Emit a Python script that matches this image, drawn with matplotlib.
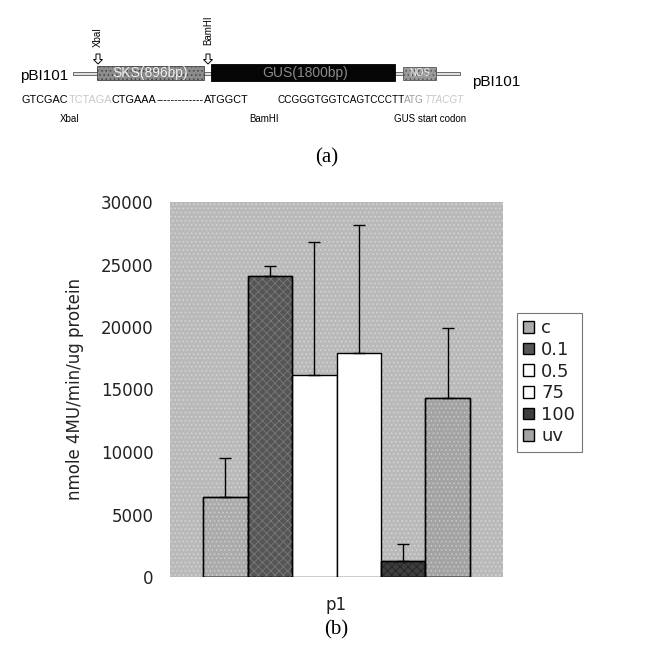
import matplotlib
matplotlib.use("Agg")
import matplotlib.pyplot as plt
from matplotlib.patches import Rectangle, FancyArrow
import numpy as np

# ---- data ----
groups = ["p1"]
series = ["c", "0.1", "0.5", "75", "100", "uv"]
values = [6400, 24100, 16200, 17900, 1300, 14300]
errors = [3100, 800, 10600, 10300, 1350, 5600]
yticks = [0, 5000, 10000, 15000, 20000, 25000, 30000]
ylabel = "nmole 4MU/min/ug protein"

bar_colors = ["#ababab", "#555555", "#ffffff", "#ffffff", "#3e3e3e", "#a3a3a3"]
bar_hatches = ["....", "xxxx", None, None, "xxxx", "...."]
hatch_colors = ["#cfcfcf", "#7a7a7a", None, None, "#222222", "#c8c8c8"]

W, H = 651, 651
fig = plt.figure(figsize=(W / 100, H / 100), dpi=100)
plt.rcParams["hatch.linewidth"] = 0.6

SANS = ["Liberation Sans", "DejaVu Sans"]

# ---------------- (a) schematic ----------------
axd = fig.add_axes([0, 1 - 170 / H, 1, 170 / H])
axd.set_xlim(0, W)
axd.set_ylim(170, 0)
axd.axis("off")
renderer = fig.canvas.get_renderer()


def chain(x, y, pieces, fs):
    """Draw text pieces one after another on a line."""
    for txt, kw in pieces:
        t = axd.text(x, y, txt, fontsize=fs, va="center", ha="left", family=SANS, **kw)
        bb = t.get_window_extent(renderer=renderer)
        x = x + bb.width  # axes x-units equal pixels
    return x


yline = 73
for x0, x1 in [(73, 97), (204, 211), (395, 403), (436, 460)]:
    axd.add_patch(Rectangle((x0, yline - 1.5), x1 - x0, 3, facecolor="#e0e0e0",
                            edgecolor="#555555", lw=0.6))
axd.add_patch(Rectangle((97, 66), 107, 14, facecolor="#8c8c8c", edgecolor="#444444",
                        lw=0.6, hatch="....", zorder=2))
axd.text(150, 73.5, "SKS(896bp)", color="#f0f0f0", fontsize=10, ha="center",
         va="center", family=SANS, zorder=3)
axd.add_patch(Rectangle((211, 64), 184, 17, facecolor="#050505", edgecolor="#000000",
                        lw=0.6, zorder=2))
axd.text(305, 73, "GUS(1800bp)", color="#8a8a8a", fontsize=10, ha="center",
         va="center", family=SANS, zorder=3)
axd.add_patch(Rectangle((403, 67), 33, 13, facecolor="#9a9a9a", edgecolor="#555555",
                        lw=0.6, hatch="....", zorder=2))
axd.text(419.5, 73.5, "NOS", color="#eeeeee", fontsize=7, ha="center", va="center",
         family=SANS, zorder=3)

axd.text(68, 76, "pBI101", fontsize=11, ha="right", va="center", family=SANS)
axd.text(472, 82, "pBI101", fontsize=11, ha="left", va="center", family=SANS)

for xa, lab, ytxt in [(98, "XbaI", 47), (208, "BamHI", 45)]:
    axd.add_patch(FancyArrow(xa, 54, 0, 10, width=4, head_width=9, head_length=4.5,
                             length_includes_head=True, facecolor="white",
                             edgecolor="black", lw=0.7))
    axd.text(xa, ytxt, lab, rotation=90, fontsize=7, ha="center", va="bottom",
             family=SANS)

yseq = 100
chain(22, yseq, [("GTCGAC", {}),
                 ("TCTAGA", {"color": "#c8c8c8"}),
                 ("CTGAAA", {}),
                 ("-" * 13, {}),
                 ("ATGGCT", {})], 7.8)
chain(277, yseq, [("CCGGGTGGTCAGTCCCTT", {}),
                  ("ATG", {"color": "#9a9a9a"}),
                  ("TTACGT", {"color": "#c8c8c8", "style": "italic"})], 7.2)
axd.text(70, 119, "XbaI", fontsize=7, ha="center", va="center", family=SANS)
axd.text(264, 119, "BamHI", fontsize=7, ha="center", va="center", family=SANS)
axd.text(430, 119, "GUS start codon", fontsize=7, ha="center", va="center",
         family=SANS)

axd.text(327, 158, "(a)", fontsize=15, ha="center", va="center",
         family=["Liberation Serif", "DejaVu Serif"])

# ---------------- (b) bar chart ----------------
L, R, T, B = 170, 503, 202, 577
ax = fig.add_axes([L / W, 1 - B / H, (R - L) / W, (B - T) / H])
ax.set_facecolor("#b9b9b9")
ax.add_patch(Rectangle((0, 0), 1, 1, transform=ax.transAxes, facecolor="none",
                       edgecolor="#d6d6d6", hatch="....", lw=0, zorder=0))

n = len(series)
w = 1.0 / 7.485
x0 = np.arange(len(groups), dtype=float)
handles = []
for i, (s, v, e) in enumerate(zip(series, values, errors)):
    xi = x0 + (i - (n - 1) / 2) * w
    b = ax.bar(xi, [v], width=w, color=bar_colors[i], edgecolor="black", lw=1.0,
               zorder=2, label=s)
    if bar_hatches[i]:
        ax.bar(xi, [v], width=w, color="none", edgecolor=hatch_colors[i],
               hatch=bar_hatches[i], lw=0, zorder=2.5)
        ax.bar(xi, [v], width=w, color="none", edgecolor="black", lw=1.0, zorder=2.6)
    ax.errorbar(xi, [v], yerr=[[0], [e]], fmt="none", ecolor="black", elinewidth=1.0,
                capsize=4, capthick=1.0, zorder=3)
    handles.append(b)

ax.set_xlim(-0.5, 0.5)
ax.set_ylim(0, 30000)
ax.set_yticks(yticks)
ax.set_yticklabels([str(t) for t in yticks], fontsize=12, color="#222222")
ax.set_xticks(x0)
ax.set_xticklabels(groups, fontsize=12, color="#222222")
ax.tick_params(axis="both", length=0)
ax.tick_params(axis="y", pad=12)
ax.tick_params(axis="x", pad=14)
for sp in ax.spines.values():
    sp.set_visible(False)
ax.set_ylabel(ylabel, fontsize=12, color="#222222", labelpad=12)

leg = fig.legend(handles=handles, labels=series, loc="upper left",
                 bbox_to_anchor=(517 / W, 1 - 313 / H), fontsize=13,
                 handlelength=0.6, handleheight=0.6, handletextpad=0.4,
                 labelspacing=0.2, borderpad=0.35, borderaxespad=0,
                 fancybox=False, framealpha=1)
leg.get_frame().set_edgecolor("#777777")
leg.get_frame().set_linewidth(0.8)
for t in leg.get_texts():
    t.set_color("#222222")

fig.text(336 / W, 1 - 630 / H, "(b)", fontsize=15, ha="center", va="center",
         family=["Liberation Serif", "DejaVu Serif"])

fig.savefig("out.png", dpi=100)
